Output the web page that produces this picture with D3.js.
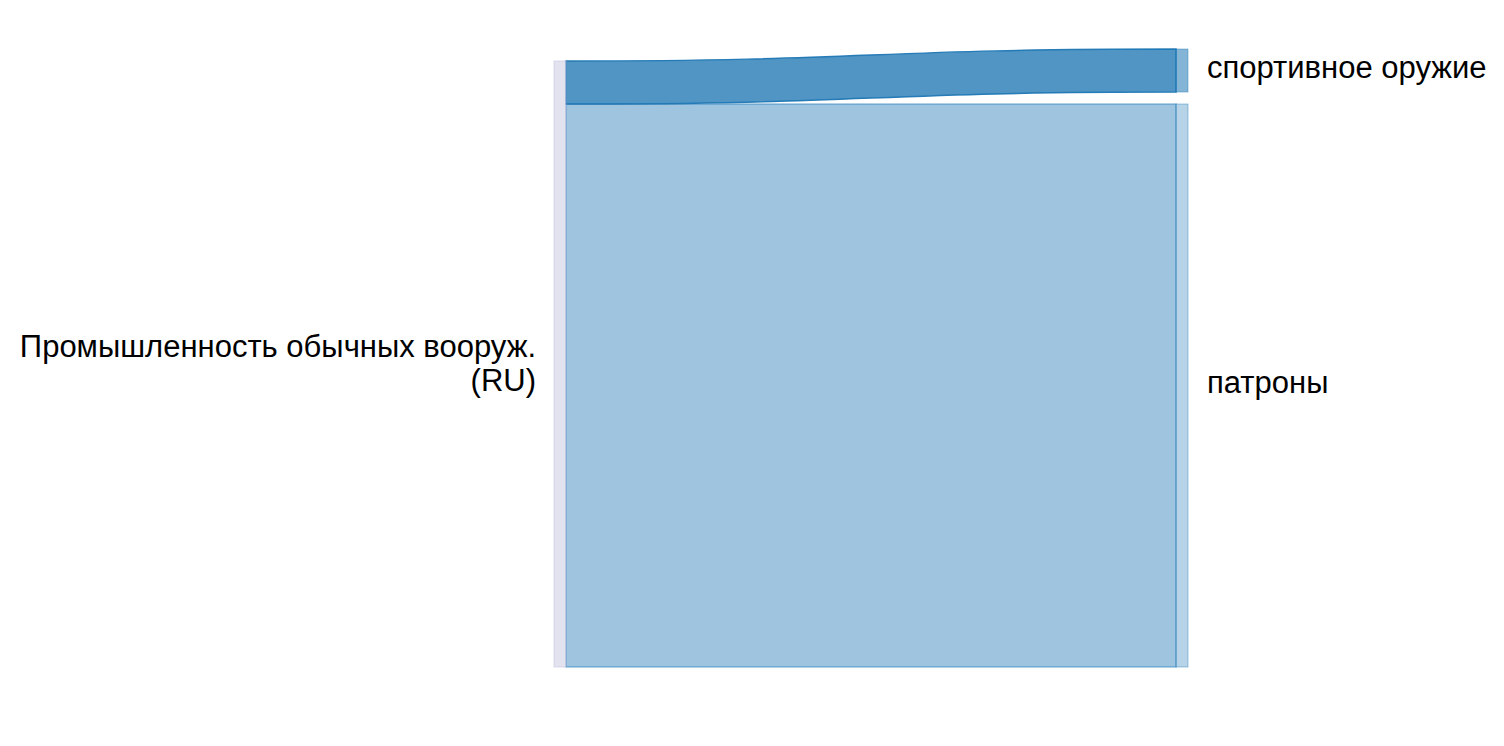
<!DOCTYPE html>
<html><head><meta charset="utf-8">
<script src="https://cdn.jsdelivr.net/npm/d3@7"></script>
<style>html,body{margin:0;padding:0;background:#fff;}svg{display:block;font-family:"Liberation Sans",Arial,sans-serif;}</style>
</head><body>
<svg id="c" width="1504" height="746"></svg>
<script>
// Data
const sources = ["Промышленность обычных вооруж. (RU)"];
const sourceLabelLines = ["Промышленность обычных вооруж.", "(RU)"];
const targets = ["спортивное оружие", "патроны"];
const values = [7.1, 92.9];

const W = 1504, H = 746;
const svg = d3.select("#c");
const nodeW = 12, gap = 12;
const total = d3.sum(values);
const x = d3.scaleLinear().domain([0, 1]).range([554, 1176]);
const h = d3.scaleLinear().domain([0, total]).range([0, 606]);
const bottom = 667;

// target nodes: stacked from bottom with gap
const tNodes = [];
let yb = bottom;
for (let i = targets.length - 1; i >= 0; i--) {
  const hh = h(values[i]);
  tNodes[i] = {name: targets[i], y0: yb - hh, y1: yb, v: values[i]};
  yb = yb - hh - gap;
}
const sNode = {y0: bottom - h(total), y1: bottom};

// links
let sy = sNode.y0;
const links = values.map((v, i) => {
  const l = {sy0: sy, sy1: sy + h(v), ty0: tNodes[i].y0, ty1: tNodes[i].y1, i};
  sy += h(v);
  return l;
});
const x0 = x(0) + nodeW, x1 = x(1);
const xm = (x0 + x1) / 2;
function linkPath(l) {
  return `M${x0},${l.sy0}C${xm},${l.sy0} ${xm},${l.ty0} ${x1},${l.ty0}` +
    `L${x1},${l.ty1}C${xm},${l.ty1} ${xm},${l.sy1} ${x0},${l.sy1}Z`;
}
const linkFill = ["rgba(31,119,180,0.78)", "rgba(31,119,180,0.43)"];
const linkStroke = ["rgba(31,119,180,0.95)", "rgba(31,119,180,0.45)"];
svg.append("g").selectAll("path").data(links).join("path")
  .attr("d", linkPath)
  .attr("fill", d => linkFill[d.i])
  .attr("stroke", d => linkStroke[d.i])
  .attr("stroke-width", 1.5);

// source node
svg.append("rect").attr("x", x(0)).attr("y", sNode.y0).attr("width", nodeW).attr("height", sNode.y1 - sNode.y0)
  .attr("fill", "rgba(200,200,225,0.5)").attr("stroke", "rgba(190,190,225,0.5)").attr("stroke-width", 1);
// target nodes
const tFill = ["rgba(31,119,180,0.55)", "rgba(31,119,180,0.32)"];
svg.append("g").selectAll("rect").data(tNodes).join("rect")
  .attr("x", x(1)).attr("y", d => d.y0).attr("width", nodeW).attr("height", d => d.y1 - d.y0)
  .attr("fill", (d, i) => tFill[i]).attr("stroke", "rgba(31,119,180,0.4)").attr("stroke-width", 1);

// labels
const fs = 31;
const sc = (sNode.y0 + sNode.y1) / 2;
const st = svg.append("text").attr("text-anchor", "end").attr("font-size", fs).attr("fill", "#000");
sourceLabelLines.forEach((t, i) => {
  st.append("tspan").attr("x", x(0) - 18).attr("y", sc + (i - (sourceLabelLines.length - 1) / 2) * 34 + 10)
    .text(t);
});
svg.append("g").selectAll("text").data(tNodes).join("text")
  .attr("x", x(1) + nodeW + 19).attr("y", d => (d.y0 + d.y1) / 2 + 7)
  .attr("font-size", fs).attr("fill", "#000").text(d => d.name);
</script>
</body></html>
